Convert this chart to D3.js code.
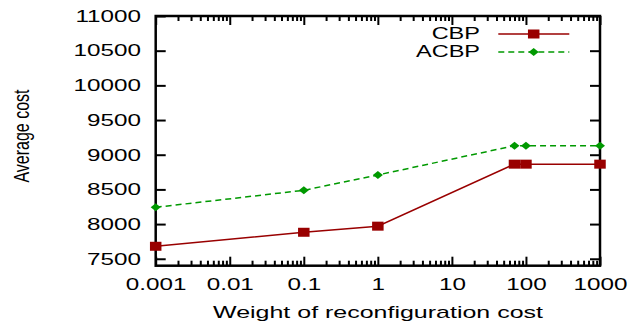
<!DOCTYPE html>
<html>
<head>
<meta charset="utf-8">
<script src="https://cdn.jsdelivr.net/npm/d3@7"></script>
<style>
  html, body { margin: 0; padding: 0; background: #fff; }
  svg { display: block; }
  text { font-family: "Liberation Sans", Arial, sans-serif; fill: #000; }
</style>
</head>
<body>
<svg id="chart" width="643" height="322"></svg>
<script>
// ---- data ----
const weights = [0.001, 0.1, 1, 70, 100, 1000];
const cbpValues = [7680, 7882, 7970, 8864, 8864, 8864];
const acbpValues = [8242, 8487, 8708, 9130, 9130, 9130];
const xTickValues = [0.001, 0.01, 0.1, 1, 10, 100, 1000];
const xTickLabels = ["0.001", "0.01", "0.1", "1", "10", "100", "1000"];
const yTickValues = [7500, 8000, 8500, 9000, 9500, 10000, 10500, 11000];
const seriesNames = ["CBP", "ACBP"];

// ---- layout ----
const L = 155.7, R = 600, T = 16, B = 265.7;
const SX = 1.47;
const svg = d3.select("#chart");

const x = d3.scaleLog().domain([0.001, 1000]).range([L, R]);
const y = d3.scaleLinear().domain([7400, 11000]).range([B, T]);

// minor ticks
const minor = [];
for (let e = -3; e < 3; e++) for (let m = 2; m <= 9; m++) minor.push(m * Math.pow(10, e));

function styleAxis(g) {
  g.select(".domain").remove();
  g.selectAll("line").attr("stroke", "#000").attr("stroke-width", 2);
}

// bottom major with labels
const gb = svg.append("g").attr("transform", `translate(0,${B})`)
  .call(d3.axisBottom(x).tickValues(xTickValues).tickSize(-9).tickSizeOuter(0).tickPadding(13)
    .tickFormat((d, i) => xTickLabels[i]));
styleAxis(gb);
gb.selectAll("text").attr("font-size", 16.5).attr("transform", `scale(${SX},1)`)
  .style("font-family", '"Liberation Sans", Arial, sans-serif').attr("fill", "#000");
// bottom minor
styleAxis(svg.append("g").attr("transform", `translate(0,${B})`)
  .call(d3.axisBottom(x).tickValues(minor).tickSize(-5).tickSizeOuter(0).tickFormat("")));
// top major / minor
styleAxis(svg.append("g").attr("transform", `translate(0,${T})`)
  .call(d3.axisTop(x).tickValues(xTickValues).tickSize(-9).tickSizeOuter(0).tickFormat("")));
styleAxis(svg.append("g").attr("transform", `translate(0,${T})`)
  .call(d3.axisTop(x).tickValues(minor).tickSize(-5).tickSizeOuter(0).tickFormat("")));
// left with labels
const gl = svg.append("g").attr("transform", `translate(${L},0)`)
  .call(d3.axisLeft(y).tickValues(yTickValues).tickSize(-10).tickSizeOuter(0).tickPadding(10)
    .tickFormat(d => String(d)));
styleAxis(gl);
gl.selectAll("text").attr("font-size", 16.5).attr("transform", `scale(${SX},1)`)
  .style("font-family", '"Liberation Sans", Arial, sans-serif').attr("fill", "#000");
// right
styleAxis(svg.append("g").attr("transform", `translate(${R},0)`)
  .call(d3.axisRight(y).tickValues(yTickValues).tickSize(-10).tickSizeOuter(0).tickFormat("")));

// frame
svg.append("rect").attr("x", L).attr("y", T).attr("width", R - L).attr("height", B - T)
  .attr("fill", "none").attr("stroke", "#000").attr("stroke-width", 2.5);

// ---- series ----
const red = "#990000", green = "#009900";
const lineGen = d3.line().x(d => x(d[0])).y(d => y(d[1]));
const cbp = weights.map((w, i) => [w, cbpValues[i]]);
const acbp = weights.map((w, i) => [w, acbpValues[i]]);

svg.append("path").datum(cbp).attr("d", lineGen).attr("fill", "none")
  .attr("stroke", red).attr("stroke-width", 1.5);
svg.append("path").datum(acbp).attr("d", lineGen).attr("fill", "none")
  .attr("stroke", green).attr("stroke-width", 1.5).attr("stroke-dasharray", "6,4");

const SQW = 11.5, SQH = 9;
function square(sel, cx, cy) {
  sel.append("rect").attr("x", cx - SQW / 2).attr("y", cy - SQH / 2)
    .attr("width", SQW).attr("height", SQH).attr("fill", red);
}
const DW = 10, DH = 8;
function diamond(sel, cx, cy) {
  sel.append("path")
    .attr("d", `M${cx - DW / 2},${cy}L${cx},${cy - DH / 2}L${cx + DW / 2},${cy}L${cx},${cy + DH / 2}Z`)
    .attr("fill", green);
}
const gm = svg.append("g");
cbp.forEach(d => square(gm, x(d[0]), y(d[1])));
acbp.forEach(d => diamond(gm, x(d[0]), y(d[1])));

// ---- legend ----
const legend = svg.append("g");
const legY = [34, 52], legTextY = [39.3, 56.7];
legend.append("text").attr("text-anchor", "end").attr("font-size", 16)
  .attr("transform", `translate(480,${legTextY[0]}) scale(${SX},1)`).text(seriesNames[0]);
legend.append("text").attr("text-anchor", "end").attr("font-size", 16)
  .attr("transform", `translate(480,${legTextY[1]}) scale(${SX},1)`).text(seriesNames[1]);
legend.append("line").attr("x1", 498.3).attr("x2", 569.3).attr("y1", legY[0]).attr("y2", legY[0])
  .attr("stroke", red).attr("stroke-width", 1.5);
legend.append("line").attr("x1", 498.3).attr("x2", 569.3).attr("y1", legY[1]).attr("y2", legY[1])
  .attr("stroke", green).attr("stroke-width", 1.5).attr("stroke-dasharray", "6,4");
square(legend, 533.7, legY[0]);
diamond(legend, 533.7, legY[1]);

// ---- axis titles ----
svg.append("text").attr("text-anchor", "middle").attr("font-size", 17)
  .attr("transform", `translate(378,318) scale(${SX},1)`).text("Weight of reconfiguration cost");
svg.append("text").attr("text-anchor", "middle").attr("font-size", 16)
  .attr("transform", `translate(29,136) scale(1.4,1) rotate(-90)`).text("Average cost");
</script>
</body>
</html>
